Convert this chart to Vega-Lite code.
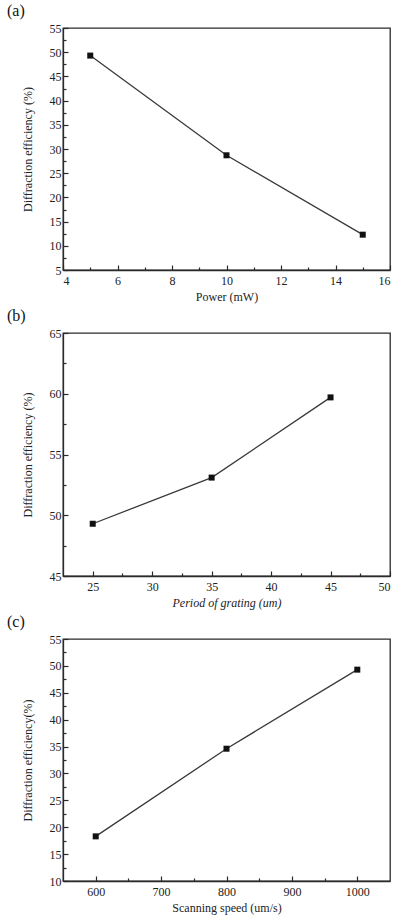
{
  "$schema": "https://vega.github.io/schema/vega-lite/v6.json",
  "background": "white",
  "padding": {"left": 6, "top": 2, "right": 6, "bottom": 2},
  "spacing": 4,
  "config": {
    "font": "Liberation Serif, Times New Roman, serif",
    "view": {"stroke": "#2a2a2a", "strokeWidth": 1.3},
    "axis": {
      "labelFont": "Liberation Serif, Times New Roman, serif", "labelFontSize": 12, "labelColor": "#222",
      "titleFont": "Liberation Serif, Times New Roman, serif", "titleFontSize": 12, "titleFontWeight": "normal", "titleColor": "#222",
      "domainColor": "#2a2a2a", "domainWidth": 1.3, "tickColor": "#2a2a2a", "tickWidth": 1.2,
      "grid": false
    },
    "axisX": {"labelPadding": 10, "titlePadding": 5},
    "axisY": {"labelPadding": 7, "titlePadding": 15},
    "title": {"font": "Liberation Serif, Times New Roman, serif", "fontSize": 16, "fontWeight": "normal", "anchor": "start", "frame": "group", "color": "#111"}
  },
  "datasets": {
    "power": [
      {"power": 5, "efficiency": 49.3},
      {"power": 10, "efficiency": 28.7},
      {"power": 15, "efficiency": 12.3}
    ],
    "period": [
      {"period": 25, "efficiency": 49.3},
      {"period": 35, "efficiency": 53.1},
      {"period": 45, "efficiency": 59.7}
    ],
    "speed": [
      {"speed": 600, "efficiency": 18.3},
      {"speed": 800, "efficiency": 34.6},
      {"speed": 1000, "efficiency": 49.3}
    ]
  },
  "vconcat": [
    {
      "width": 327, "height": 242,
      "title": {"text": "(a)", "dx": -56, "offset": 3},
      "data": {"name": "power"},
      "encoding": {
        "x": {
          "field": "power", "type": "quantitative",
          "scale": {"domain": [4, 16], "nice": false, "zero": false},
          "axis": {
            "title": "Power (mW)", "format": "d",
            "values": [4, 5, 6, 7, 8, 9, 10, 11, 12, 13, 14, 15, 16],
            "labelExpr": "datum.value % 2 == 0 ? datum.label : ''",
            "tickSize": {"condition": {"test": "datum.value % 2 == 0", "value": -5}, "value": -3}
          }
        },
        "y": {
          "field": "efficiency", "type": "quantitative",
          "scale": {"domain": [5, 55], "nice": false, "zero": false},
          "axis": {
            "title": "Diffraction efficiency (%)", "format": "d",
            "values": [5, 7.5, 10, 12.5, 15, 17.5, 20, 22.5, 25, 27.5, 30, 32.5, 35, 37.5, 40, 42.5, 45, 47.5, 50, 52.5, 55],
            "labelExpr": "datum.value % 5 == 0 ? datum.label : ''",
            "tickSize": {"condition": {"test": "datum.value % 5 == 0", "value": -5}, "value": -3}
          }
        }
      },
      "layer": [
        {"mark": {"type": "line", "color": "#3a3a3a", "strokeWidth": 1.3}},
        {"mark": {"type": "point", "shape": "square", "filled": true, "size": 36, "color": "#111", "opacity": 1}}
      ]
    },
    {
      "width": 327, "height": 243,
      "title": {"text": "(b)", "dx": -56, "offset": 3},
      "data": {"name": "period"},
      "encoding": {
        "x": {
          "field": "period", "type": "quantitative",
          "scale": {"domain": [22.5, 50], "nice": false, "zero": false},
          "axis": {
            "title": "Period of grating (um)", "titleFontStyle": "italic", "format": "d",
            "values": [25, 27.5, 30, 32.5, 35, 37.5, 40, 42.5, 45, 47.5, 50],
            "labelExpr": "datum.value % 5 == 0 ? datum.label : ''",
            "tickSize": {"condition": {"test": "datum.value % 5 == 0", "value": -5}, "value": -3}
          }
        },
        "y": {
          "field": "efficiency", "type": "quantitative",
          "scale": {"domain": [45, 65], "nice": false, "zero": false},
          "axis": {
            "title": "Diffraction efficiency (%)", "format": "d",
            "values": [45, 47.5, 50, 52.5, 55, 57.5, 60, 62.5, 65],
            "labelExpr": "datum.value % 5 == 0 ? datum.label : ''",
            "tickSize": {"condition": {"test": "datum.value % 5 == 0", "value": -5}, "value": -3}
          }
        }
      },
      "layer": [
        {"mark": {"type": "line", "color": "#3a3a3a", "strokeWidth": 1.3}},
        {"mark": {"type": "point", "shape": "square", "filled": true, "size": 36, "color": "#111", "opacity": 1}}
      ]
    },
    {
      "width": 327, "height": 242,
      "title": {"text": "(c)", "dx": -56, "offset": 3},
      "data": {"name": "speed"},
      "encoding": {
        "x": {
          "field": "speed", "type": "quantitative",
          "scale": {"domain": [550, 1050], "nice": false, "zero": false},
          "axis": {
            "title": "Scanning speed (um/s)", "format": "d",
            "values": [600, 650, 700, 750, 800, 850, 900, 950, 1000],
            "labelExpr": "datum.value % 100 == 0 ? datum.label : ''",
            "tickSize": {"condition": {"test": "datum.value % 100 == 0", "value": -5}, "value": -3}
          }
        },
        "y": {
          "field": "efficiency", "type": "quantitative",
          "scale": {"domain": [10, 55], "nice": false, "zero": false},
          "axis": {
            "title": "Diffraction efficiency(%)", "format": "d",
            "values": [10, 12.5, 15, 17.5, 20, 22.5, 25, 27.5, 30, 32.5, 35, 37.5, 40, 42.5, 45, 47.5, 50, 52.5, 55],
            "labelExpr": "datum.value % 5 == 0 ? datum.label : ''",
            "tickSize": {"condition": {"test": "datum.value % 5 == 0", "value": -5}, "value": -3}
          }
        }
      },
      "layer": [
        {"mark": {"type": "line", "color": "#3a3a3a", "strokeWidth": 1.3}},
        {"mark": {"type": "point", "shape": "square", "filled": true, "size": 36, "color": "#111", "opacity": 1}}
      ]
    }
  ]
}
